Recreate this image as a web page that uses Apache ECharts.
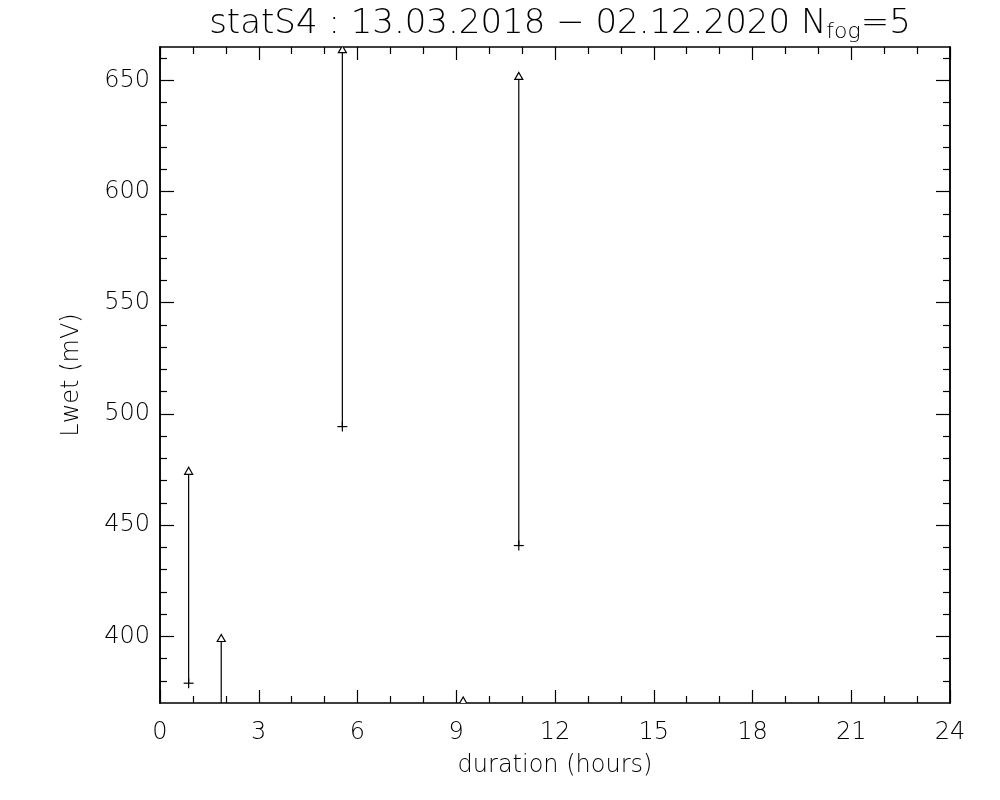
<!DOCTYPE html>
<html>
<head>
<meta charset="utf-8">
<script src="https://cdn.jsdelivr.net/npm/echarts@6/dist/echarts.min.js"></script>
<style>
  html, body { margin: 0; padding: 0; background: #fff; }
  #chart { width: 1000px; height: 800px; }
</style>
</head>
<body>
<div id="chart"></div>
<script>
// fog events: duration (hours) vs Lwet min / max (mV)
var durations = [0.87, 1.86, 5.54, 9.21, 10.90];
var lwetMin = [378.9, 355.0, 494.3, 352.0, 440.8];
var lwetMax = [474.2, 399.0, 663.8, 370.9, 651.8];

var xTicks = [0, 3, 6, 9, 12, 15, 18, 21, 24];
var yMajor = [400, 450, 500, 550, 600, 650];
var yMinor = [];
for (var v = 380; v <= 660; v += 10) {
  if (v % 50 !== 0) yMinor.push(v);
}

var FONT = 'DejaVu Sans';
var INK = '#000';

var rows = durations.map(function (d, i) {
  return [d, lwetMin[i], lwetMax[i]];
});

var chart = echarts.init(document.getElementById('chart'));

function yAxisDef(pos, ticks, len, labels) {
  return {
    type: 'value',
    position: pos,
    min: 370,
    max: 665,
    axisLine: { show: true, onZero: false, lineStyle: { color: INK, width: 1.5 } },
    splitLine: { show: false },
    axisTick: { show: true, inside: true, length: len, customValues: ticks, lineStyle: { color: INK, width: 1.2 } },
    axisLabel: labels
      ? { show: true, customValues: yMajor, color: INK, fontFamily: FONT, fontSize: 24, fontWeight: 200, margin: 10 }
      : { show: false }
  };
}

function xAxisDef(pos, labels) {
  return {
    type: 'value',
    position: pos,
    min: 0,
    max: 24,
    interval: 3,
    axisLine: { show: true, onZero: false, lineStyle: { color: INK, width: 1.5 } },
    splitLine: { show: false },
    axisTick: { show: true, inside: true, length: 13, lineStyle: { color: INK, width: 1.2 } },
    minorTick: { show: true, splitNumber: 3, length: 7, lineStyle: { color: INK, width: 1.2 } },
    axisLabel: labels
      ? { show: true, color: INK, fontFamily: FONT, fontSize: 24, fontWeight: 200, margin: 18 }
      : { show: false },
    name: labels ? 'duration (hours)' : '',
    nameLocation: 'middle',
    nameGap: 51,
    nameTextStyle: { color: INK, fontFamily: FONT, fontSize: 24, fontWeight: 200 }
  };
}

var yAxes = [
  yAxisDef('left', yMajor, 14, true),
  yAxisDef('left', yMinor, 7, false),
  yAxisDef('right', yMajor, 14, false),
  yAxisDef('right', yMinor, 7, false)
];
yAxes[0].name = 'Lwet (mV)';
yAxes[0].nameLocation = 'middle';
yAxes[0].nameGap = 76;
yAxes[0].nameTextStyle = { color: INK, fontFamily: FONT, fontSize: 24, fontWeight: 200 };

chart.setOption({
  backgroundColor: '#fff',
  animation: false,
  title: {
    text: '{a|statS4 : 13.03.2018 − 02.12.2020 N}{s|fog}{a|=5}',
    left: 555,
    textAlign: 'center',
    top: 0,
    textStyle: {
      rich: {
        a: { color: INK, fontFamily: FONT, fontSize: 34, fontWeight: 200 },
        s: { color: INK, fontFamily: FONT, fontSize: 22, fontWeight: 200, padding: [16, 0, 0, 0] }
      }
    }
  },
  grid: { left: 160, right: 50, top: 47, bottom: 97 },
  xAxis: [xAxisDef('bottom', true), xAxisDef('top', false)],
  yAxis: yAxes,
  series: [{
    type: 'custom',
    clip: true,
    data: rows,
    encode: { x: 0, y: [1, 2] },
    renderItem: function (params, api) {
      var lo = api.coord([api.value(0), api.value(1)]);
      var hi = api.coord([api.value(0), api.value(2)]);
      var s = { stroke: INK, lineWidth: 1.2, fill: null };
      return {
        type: 'group',
        children: [
          { type: 'line', shape: { x1: lo[0], y1: lo[1], x2: hi[0], y2: hi[1] }, style: s },
          { type: 'line', shape: { x1: lo[0] - 5, y1: lo[1], x2: lo[0] + 5, y2: lo[1] }, style: s },
          { type: 'line', shape: { x1: lo[0], y1: lo[1] - 5, x2: lo[0], y2: lo[1] + 5 }, style: s },
          {
            type: 'polygon',
            shape: { points: [[hi[0], hi[1] - 4], [hi[0] - 4, hi[1] + 3], [hi[0] + 4, hi[1] + 3]] },
            style: { stroke: INK, lineWidth: 1.2, fill: '#fff' }
          }
        ]
      };
    }
  }]
});
</script>
</body>
</html>
